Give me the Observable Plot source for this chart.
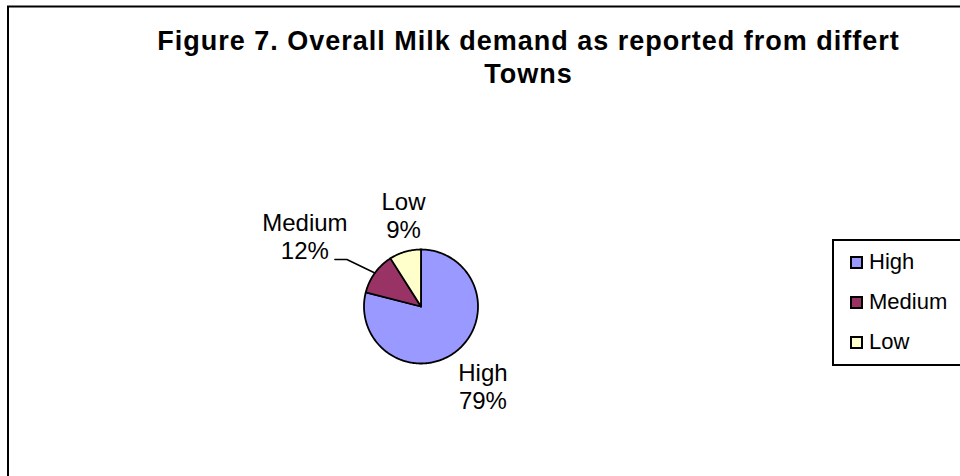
<!DOCTYPE html>
<html><head><meta charset="utf-8">
<script src="https://cdn.jsdelivr.net/npm/d3@7"></script>
<script src="https://cdn.jsdelivr.net/npm/@observablehq/plot@0.6"></script>
<style>
html,body{margin:0;padding:0;background:#fff;}
#chart{position:relative;width:960px;height:476px;overflow:hidden;font-family:"Liberation Sans",Arial,sans-serif;}
#legend{position:absolute;left:832px;top:239px;width:150px;height:127px;border:2px solid #000;box-sizing:border-box;background:#fff;}
.row{position:absolute;left:16px;height:24px;display:flex;align-items:center;font-size:22px;color:#000;line-height:24px;}
.sw{width:9px;height:9px;border:2px solid #000;margin-right:6px;}
</style></head><body><div id="chart"></div>
<script>
const categories = ["High", "Medium", "Low"];
const shares = [79, 12, 9];
const colors = ["#9999FF", "#993366", "#FFFFCC"];
const titleText = "Figure 7. Overall Milk demand as reported from differt\nTowns";

// geometry (pixels)
const cx = 420.5, cy = 306, r = 57;
const labelOffsets = {High: [27, 8.6], Medium: [-70, -62.9], Low: [-1.6, -62.7]};

const data = categories.map((c, i) => ({cat: c, value: shares[i]}));
const arcs = d3.pie().sort(null).value(d => d.value).startAngle(0).endAngle(2 * Math.PI)(data);

const poly = [];
for (const a of arcs) {
  poly.push({cat: a.data.cat, x: 0, y: 0});
  const n = Math.max(2, Math.ceil((a.endAngle - a.startAngle) / (Math.PI / 180)));
  for (let k = 0; k <= n; k++) {
    const t = a.startAngle + (a.endAngle - a.startAngle) * k / n;
    poly.push({cat: a.data.cat, x: Math.sin(t), y: Math.cos(t)});
  }
  poly.push({cat: a.data.cat, x: 0, y: 0});
}

const labels = arcs.map(a => {
  const m = (a.startAngle + a.endAngle) / 2;
  return {cat: a.data.cat, text: `${a.data.cat}\n${a.data.value}%`, x: Math.sin(m), y: Math.cos(m),
          dx: labelOffsets[a.data.cat][0], dy: labelOffsets[a.data.cat][1]};
});

// leader line for Medium
const med = arcs[1];
const mm = (med.startAngle + med.endAngle) / 2;
const ex = Math.sin(mm), ey = Math.cos(mm);
const leader = [
  {x: ex, y: ey},
  {x: ex - 28 / r, y: ey + 13.5 / r},
  {x: ex - 40 / r, y: ey + 13.5 / r}
];

const plot = Plot.plot({
  width: 960,
  height: 476,
  margin: 0,
  style: {fontFamily: '"Liberation Sans", Arial, sans-serif', color: "#000", background: "#fff"},
  x: {domain: [-1, 1], range: [cx - r, cx + r], axis: null},
  y: {domain: [-1, 1], range: [cy + r, cy - r], axis: null},
  color: {domain: categories, range: colors},
  marks: [
    Plot.frame({stroke: "#000", strokeWidth: 2, insetLeft: 7.5, insetTop: 6, insetRight: -10, insetBottom: -10}),
    Plot.line(poly, {x: "x", y: "y", z: "cat", fill: "cat", stroke: "#000", strokeWidth: 1.8, curve: "linear", strokeLinejoin: "round"}),
    Plot.line(leader, {x: "x", y: "y", stroke: "#000", strokeWidth: 1.5}),
    ...labels.map(l => Plot.text([l], {x: "x", y: "y", text: "text", dx: l.dx, dy: l.dy, lineAnchor: "top", textAnchor: "middle", fontSize: 24, lineHeight: 1.2, fill: "#000"})),
    Plot.text([titleText], {frameAnchor: "top", dx: 48, dy: 26, lineAnchor: "top", textAnchor: "middle", fontSize: 27, fontWeight: "bold", lineHeight: 1.222, fill: "#000"})
  ]
});

d3.select(plot).selectAll("text").filter(function() { return this.textContent.startsWith("Figure"); })
  .attr("letter-spacing", "1px");

const chart = document.getElementById("chart");
chart.appendChild(plot);

// legend from the plot's colour scale
const cs = plot.scale("color");
const leg = document.createElement("div");
leg.id = "legend";
cs.domain.forEach((d, i) => {
  const row = document.createElement("div");
  row.className = "row";
  row.style.top = (9 + i * 40) + "px";
  const sw = document.createElement("div");
  sw.className = "sw";
  sw.style.background = cs.range[i];
  const lab = document.createElement("span");
  lab.textContent = d;
  row.appendChild(sw); row.appendChild(lab);
  leg.appendChild(row);
});
chart.appendChild(leg);
</script></body></html>
